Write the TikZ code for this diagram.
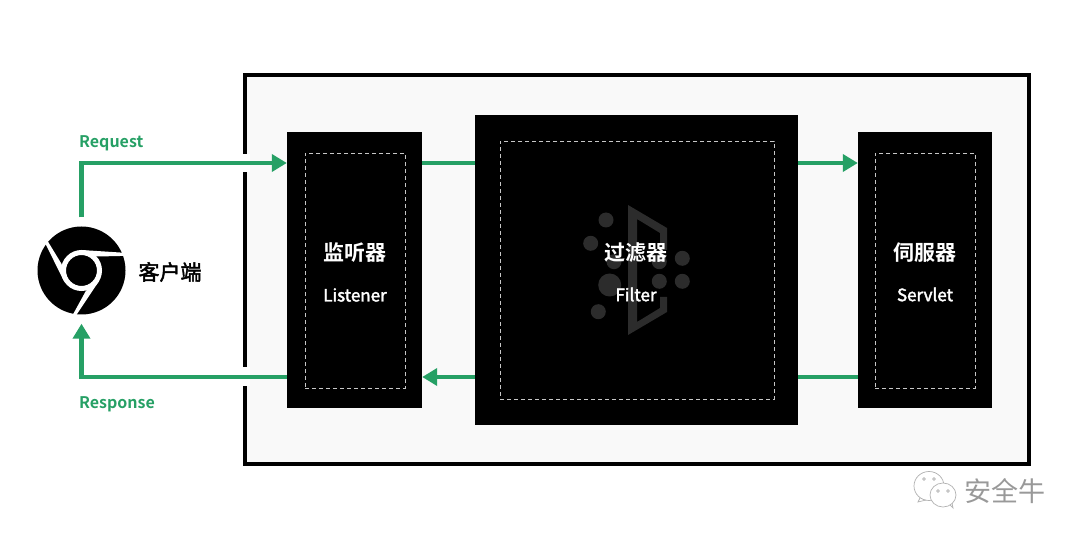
\documentclass[tikz,border=0pt]{standalone}
\usepackage{fontspec}
\setmainfont{Noto Sans CJK SC}
\newfontfamily\cjkb{Noto Sans CJK SC Bold}
\newfontfamily\cjkm[FakeBold=2.2]{Noto Sans CJK SC}
\usetikzlibrary{arrows.meta,calc}
\definecolor{flowgreen}{HTML}{26A065}
\definecolor{panelbg}{HTML}{F9F9F9}
\definecolor{ghost}{HTML}{2C2C2C}
\tikzset{
  blackbox/.style={draw=none,fill=black,rectangle,inner sep=0pt},
  dashbox/.style={draw=white!78!black,line width=0.9pt,dash pattern=on 4pt off 3pt,rectangle,inner sep=0pt},
  cnlabel/.style={text=white,font=\cjkb\fontsize{21}{21}\selectfont,inner sep=0pt},
  enlabel/.style={text=white,font=\cjkm\fontsize{17}{17}\selectfont,inner sep=0pt},
  flow/.style={draw=flowgreen,line width=4.8pt},
  flowarrow/.style={flow,-{Triangle[length=15pt,width=17pt]}},
  flowlabel/.style={text=flowgreen,font=\cjkb\fontsize{16}{16}\selectfont,anchor=west,inner sep=0pt},
  ghostdot/.style={circle,fill=ghost,draw=none,inner sep=0pt},
  wechatline/.style={draw=black!30,line width=0.7pt},
}
\begin{document}
\begin{tikzpicture}[x=1pt,y=-1pt]
\useasboundingbox (0,0) rectangle (1080,540);
\fill[white] (0,0) rectangle (1080,540);
% frame
\node[rectangle,draw=black,fill=panelbg,line width=4pt,inner sep=0pt,minimum width=784pt,minimum height=389pt] (frame) at (637,269.5) {};
% gaps in the frame
\fill[white] (241,154) rectangle (250,172.5);
\fill[white] (241,367) rectangle (250,386);
% boxes
\node[blackbox,minimum width=135pt,minimum height=276pt] (listener) at (354.5,270) {};
\node[blackbox,minimum width=323pt,minimum height=310pt] (filter) at (636.5,270) {};
\node[blackbox,minimum width=134pt,minimum height=276pt] (servlet) at (925,270) {};
\node[dashbox,minimum width=100pt,minimum height=235pt] (listenerin) at (355,270.5) {};
\node[dashbox,minimum width=274pt,minimum height=258pt] (filterin) at (637,270) {};
\node[dashbox,minimum width=100pt,minimum height=235pt] (servletin) at (925,270.5) {};
% filter watermark
\fill[ghost] (628,205) -- (667,228) -- (667,250) -- (660,250) -- (660,233) -- (637,219) -- (637,322) -- (660,308) -- (660,297) -- (667,297) -- (667,312) -- (628,335) -- cycle;
\node[ghostdot,minimum size=15pt] (d1) at (606,220) {};
\node[ghostdot,minimum size=15pt] (d2) at (590.7,243.3) {};
\node[ghostdot,minimum size=23pt] (d3) at (609.7,285) {};
\node[ghostdot,minimum size=15pt] (d4) at (598.3,311.7) {};
\node[ghostdot,minimum size=15pt] (d5) at (682.3,258.3) {};
\node[ghostdot,minimum size=15pt] (d6) at (682.3,281.3) {};
\node[ghostdot,minimum size=15pt] (d7) at (659.3,281.3) {};
\node[ghostdot,minimum size=15pt] (d8) at (614,261.7) {};
\node[ghostdot,minimum size=15pt] (d9) at (659.3,261.7) {};
% labels
\node[cnlabel] (t1) at (355,253) {监听器};
\node[enlabel] (t2) at (355,295) {Listener};
\node[cnlabel] (t3) at (636,253) {过滤器};
\node[enlabel] (t4) at (636,294.5) {Filter};
\node[cnlabel] (t5) at (925,253) {伺服器};
\node[enlabel] (t6) at (925,294.5) {Servlet};
% client icon
\node[circle,fill=black,draw=none,minimum size=88pt,inner sep=0pt] (client) at (81.5,270.5) {};
\draw[white,line width=5pt] (81.5,270.5) circle (18pt);
\foreach \a in {0,120,240}{
  \fill[white,shift={(81.5,270.5)},rotate=\a] (41.5,-17.8) -- (42.8,-14.6) -- (16,-14) -- (0,-17) -- (0,-20.5) -- cycle;
}
\node[text=black,font=\cjkm\fontsize{21}{21}\selectfont,inner sep=0pt] (clientlabel) at (170,272) {客户端};
% connectors
\coordinate (topy) at (0,163);
\coordinate (boty) at (0,377);
\draw[flowarrow,shorten <=9pt] (client.north) |- (listener.west |- topy);
\draw[flowarrow] (listener.west |- boty) -| ($(client.south)+(0,9)$);
\draw[flow] (listener.east |- topy) -- (filter.west |- topy);
\draw[flowarrow] (filter.east |- topy) -- (servlet.west |- topy);
\draw[flow] (servlet.west |- boty) -- (filter.east |- boty);
\draw[flowarrow] (filter.west |- boty) -- (listener.east |- boty);
\node[flowlabel] (req) at (79,143) {Request};
\node[flowlabel] (resp) at (79,404) {Response};
% watermark
\draw[wechatline,fill=white] (929,486) ellipse (15pt and 14.5pt);
\draw[wechatline] (920,498) -- (918,502) -- (926,500);
\draw[wechatline,fill=white] (943,495) ellipse (13pt and 12pt);
\draw[wechatline] (950,505) -- (953,508) -- (952,503);
\foreach \x/\y in {924/479,934/479,938/491,948/491}{\draw[wechatline] (\x,\y) circle (1.3pt);}
\node[text=black!40,font=\fontsize{27}{27}\selectfont,inner sep=0pt] (wm) at (1005,491) {安全牛};
\end{tikzpicture}
\end{document}
